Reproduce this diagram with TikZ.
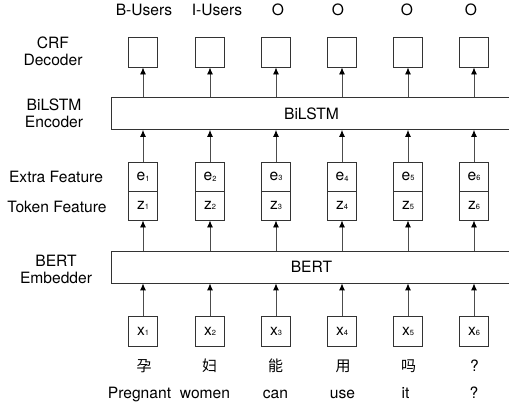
\documentclass[tikz,border=0pt]{standalone}
\usepackage{fontspec}
\setmainfont{TeX Gyre Heros}
\newfontfamily\cjk{Noto Sans CJK SC}
\usetikzlibrary{arrows.meta}
\newcommand\mysub[1]{\raisebox{-0.6pt}{\fontsize{7.5}{7.5}\selectfont #1}}
\tikzset{
  cell/.style={draw=black!80, line width=0.9pt, minimum width=29pt, minimum height=30pt, inner sep=0pt},
  half/.style={draw=black!80, line width=0.9pt, minimum width=29pt, minimum height=29pt, inner sep=0pt},
  wide/.style={draw=black!80, line width=0.9pt, minimum width=400pt, minimum height=32pt, inner sep=0pt, anchor=north west},
  arr/.style={draw=black!70, line width=0.9pt, -{Latex[length=7pt,width=6pt,color=black]}},
  txt/.style={inner sep=0pt, align=center, font=\fontsize{15.6}{17}\selectfont},
}
\begin{document}
\begin{tikzpicture}[x=1pt,y=-1pt]
\useasboundingbox (0,0) rectangle (509,410);
\fill[white] (0,0) rectangle (509,410);
% left labels
\node[txt] (lcrf) at (53,51) {CRF\\Decoder};
\node[txt] (lbil) at (54,113) {BiLSTM\\Encoder};
\node[txt] (lext) at (56,177) {Extra Feature};
\node[txt] (ltok) at (57,206.5) {Token Feature};
\node[txt] (lbert) at (56,269) {BERT\\Embedder};
% wide boxes
\node[wide, txt, text width=400pt] (bilstm) at (111,97) {BiLSTM};
\node[wide, txt, text width=400pt] (bert) at (111,250.5) {BERT};
% top tags
\node[txt] (t1) at (144,10) {B-Users};
\node[txt] (t2) at (217,10) {I-Users};
\node[txt] (t3) at (278,10) {O};
\node[txt] (t4) at (338,10) {O};
\node[txt] (t5) at (407,10) {O};
\node[txt] (t6) at (471,10) {O};
% columns
\foreach \i/\x in {1/143,2/210,3/276,4/342,5/408,6/474}{
  \node[cell] (crf\i) at (\x,52) {};
  \node[half, txt] (e\i) at (\x,176.5) {e\mysub{\i}};
  \node[half, txt] (z\i) at (\x,205.5) {z\mysub{\i}};
  \node[cell, txt] (x\i) at (\x,331.5) {x\mysub{\i}};
  \draw[arr] (bilstm.north -| crf\i) -- (crf\i.south);
  \draw[arr] (e\i.north) -- (e\i.north |- bilstm.south);
  \draw[arr] (bert.north -| z\i) -- (z\i.south);
  \draw[arr] (x\i.north) -- (x\i.north |- bert.south);
}
% Chinese characters
\node[txt, font=\cjk\fontsize{15}{17}\selectfont] (c1) at (144,366) {孕};
\node[txt, font=\cjk\fontsize{15}{17}\selectfont] (c2) at (209.5,366) {妇};
\node[txt, font=\cjk\fontsize{15}{17}\selectfont] (c3) at (275.5,366) {能};
\node[txt, font=\cjk\fontsize{15}{17}\selectfont] (c4) at (343,366) {用};
\node[txt, font=\cjk\fontsize{15}{17}\selectfont] (c5) at (408.5,366) {吗};
\node[txt] (c6) at (474.5,366) {?};
% English words
\node[txt, anchor=base] (w1) at (139.5,398) {Pregnant};
\node[txt, anchor=base] (w2) at (205,398) {women};
\node[txt, anchor=base] (w3) at (275.5,398) {can};
\node[txt, anchor=base] (w4) at (342.5,398) {use};
\node[txt, anchor=base] (w5) at (405.5,398) {it};
\node[txt, anchor=base] (w6) at (474,398) {?};
\end{tikzpicture}
\end{document}
